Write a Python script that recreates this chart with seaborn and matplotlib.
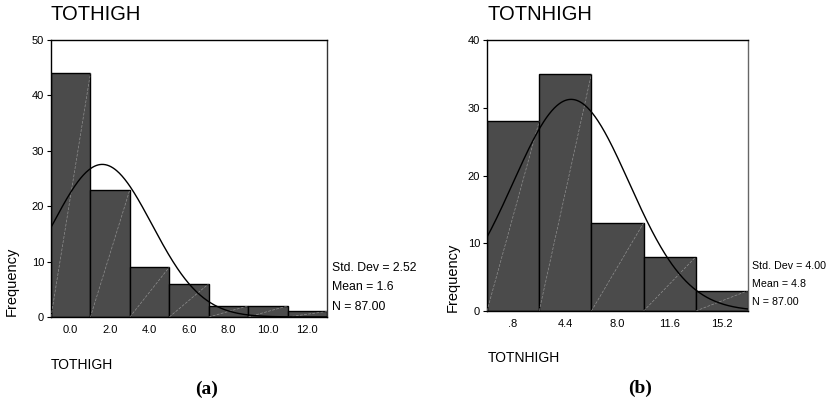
import numpy as np
import pandas as pd
import matplotlib
matplotlib.use("Agg")
import matplotlib.pyplot as plt
import seaborn as sns

sns.set_style("white")
plt.rcParams['font.family'] = ['Liberation Sans', 'DejaVu Sans']
plt.rcParams.update({"text.color": "black", "axes.labelcolor": "black",
                     "xtick.color": "black", "ytick.color": "black"})

# ---- data ----
a_edges = [-1, 1, 3, 5, 7, 9, 11, 13]
a_counts = [44, 23, 9, 6, 2, 2, 1]
a_ticks = [0, 2, 4, 6, 8, 10, 12]
a_ticklabels = ["0.0", "2.0", "4.0", "6.0", "8.0", "10.0", "12.0"]
a_mean, a_sd, a_n = 1.6, 2.52, 87
a_name = "TOTHIGH"
a_ymax = 50

b_edges = [-1.0, 2.6, 6.2, 9.8, 13.4, 17.0]
b_counts = [28, 35, 13, 8, 3]
b_ticks = [0.8, 4.4, 8.0, 11.6, 15.2]
b_ticklabels = [".8", "4.4", "8.0", "11.6", "15.2"]
b_mean, b_sd, b_n = 4.8, 4.00, 87
b_name = "TOTNHIGH"
b_ymax = 40

W, H = 829, 403
fig = plt.figure(figsize=(W / 100, H / 100), dpi=100)


def px_axes(l, t, r, b):
    return fig.add_axes([l / W, 1 - b / H, (r - l) / W, (b - t) / H])


def panel(ax, edges, counts, ticks, ticklabels, mean, sd, n, ymax, rspine):
    e = np.asarray(edges, float)
    centers = (e[:-1] + e[1:]) / 2
    df = pd.DataFrame({"x": centers, "w": counts})
    sns.histplot(data=df, x="x", weights="w", bins=list(edges), ax=ax,
                 color="#4b4b4b", edgecolor="black", linewidth=1.0, alpha=1)
    # faint diagonal artifact lines in bars
    for l, r, c in zip(e[:-1], e[1:], counts):
        ax.plot([l, r], [0, c], color="#bdbdbd", lw=0.5, alpha=0.6,
                ls=(0, (4, 2)), zorder=3)
    bw = e[1] - e[0]
    xs = np.linspace(e[0], e[-1], 300)
    ys = n * bw / (sd * np.sqrt(2 * np.pi)) * np.exp(-0.5 * ((xs - mean) / sd) ** 2)
    sns.lineplot(x=xs, y=ys, ax=ax, color="black", lw=1.0, zorder=4)
    ax.set_xlim(e[0], e[-1])
    ax.set_ylim(0, ymax)
    ax.set_yticks(np.arange(0, ymax + 1, 10))
    ax.set_xticks(ticks)
    ax.set_xticklabels(ticklabels)
    ax.tick_params(axis="y", length=3, width=0.8, direction="out", left=True,
                   labelsize=8, pad=2)
    ax.tick_params(axis="x", length=0, labelsize=8, pad=6)
    ax.set_xlabel("")
    ax.set_ylabel("")
    for s in ax.spines.values():
        s.set_visible(True)
        s.set_color("black")
        s.set_linewidth(1.0)
    ax.spines["right"].set_color(rspine)


axa = px_axes(51, 40, 327, 317)
panel(axa, a_edges, a_counts, a_ticks, a_ticklabels, a_mean, a_sd, a_n, a_ymax, "#333333")
axb = px_axes(487, 40, 748, 311)
panel(axb, b_edges, b_counts, b_ticks, b_ticklabels, b_mean, b_sd, b_n, b_ymax, "#666666")


def ftext(x, y, s, **kw):
    fig.text(x / W, 1 - y / H, s, **kw)


# titles
ftext(51, 15, a_name, fontsize=14.5, va="center", ha="left")
ftext(488, 15, b_name, fontsize=14.5, va="center", ha="left")
# x labels
ftext(51, 365, a_name, fontsize=10, va="center", ha="left")
ftext(488, 358, b_name, fontsize=10, va="center", ha="left")
# y labels
ftext(12, 281, "Frequency", fontsize=10.5, rotation=90, va="center", ha="center")
ftext(453, 277, "Frequency", fontsize=10.5, rotation=90, va="center", ha="center")
# stats
for (y, s) in zip([268, 287, 307],
                  [f"Std. Dev = {a_sd:.2f}", f"Mean = {a_mean:.1f}", f"N = {a_n:.2f}"]):
    ftext(332, y, s, fontsize=8.8, va="center", ha="left")
for (y, s) in zip([266, 284, 302],
                  [f"Std. Dev = {b_sd:.2f}", f"Mean = {b_mean:.1f}", f"N = {b_n:.2f}"]):
    ftext(752, y, s, fontsize=7.7, va="center", ha="left")
# panel letters
ftext(207, 389, "(a)", fontsize=14, fontweight="bold", va="center", ha="center",
      family="Liberation Serif")
ftext(640, 388, "(b)", fontsize=14, fontweight="bold", va="center", ha="center",
      family="Liberation Serif")

fig.savefig("out.png", dpi=100)
